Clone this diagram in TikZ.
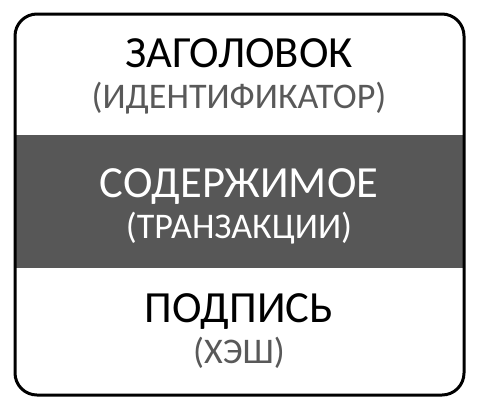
\documentclass[tikz,border=0pt]{standalone}
\usepackage{fontspec}
\setmainfont{Carlito}
\definecolor{bandgray}{HTML}{575757}
\definecolor{subgray}{HTML}{595959}
\tikzset{
  titletext/.style={anchor=base, inner sep=0pt, font=\fontsize{44.7}{44.7}\selectfont},
  subtext/.style={anchor=base, inner sep=0pt, font=\fontsize{36.2}{36.2}\selectfont},
  frame/.style={draw=black, line width=3bp, rounded corners=22bp}
}
\begin{document}
\begin{tikzpicture}[x=1bp, y=-1bp]
\useasboundingbox (0,0) rectangle (478,410);
\fill[bandgray] (15,135) rectangle (464,268);
\draw[frame] (15,14) rectangle (464,395);
\node[titletext, text=black] (t1) at (239,67) {ЗАГОЛОВОК};
\node[subtext, text=subgray] (s1) at (239,108) {(ИДЕНТИФИКАТОР)};
\node[titletext, text=white] (t2) at (239,197) {СОДЕРЖИМОЕ};
\node[subtext, text=white] (s2) at (239,238) {(ТРАНЗАКЦИИ)};
\node[titletext, text=black] (t3) at (239,322) {ПОДПИСЬ};
\node[subtext, text=subgray] (s3) at (239,363) {(ХЭШ)};
\end{tikzpicture}
\end{document}
